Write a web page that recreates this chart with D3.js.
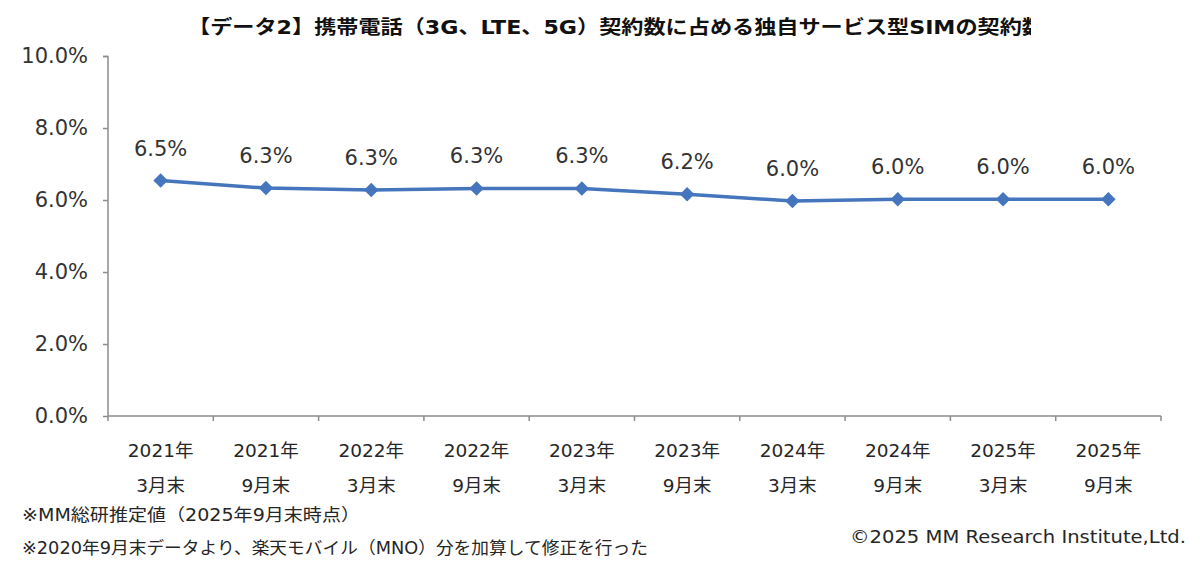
<!DOCTYPE html>
<html>
<head>
<meta charset="utf-8">
<script src="https://cdn.jsdelivr.net/npm/d3@7"></script>
<style>
  body { margin: 0; background: #fff; }
  text { font-family: "DejaVu Sans", "Noto Sans CJK JP", sans-serif; fill: #262626; }
</style>
</head>
<body>
<script>
var w = 1200;
var h = 567;

// data
var years = ["2021年", "2021年", "2022年", "2022年", "2023年", "2023年", "2024年", "2024年", "2025年", "2025年"];
var months = ["3月末", "9月末", "3月末", "9月末", "3月末", "9月末", "3月末", "9月末", "3月末", "9月末"];
var shareValues = [6.54, 6.33, 6.28, 6.32, 6.32, 6.16, 5.97, 6.02, 6.02, 6.02];
var yTicks = [0, 2, 4, 6, 8, 10];

var titleText = "【データ2】携帯電話（3G、LTE、5G）契約数に占める独自サービス型SIMの契約数";
var notes = ["※MM総研推定値（2025年9月末時点）", "※2020年9月末データより、楽天モバイル（MNO）分を加算して修正を行った"];
var noteWidths = [338, 626];
var copyright = "©2025 MM Research Institute,Ltd.";

var categories = years.map(function(d, i){ return i; });

var svg = d3.select("body").append("svg")
            .attr("width", w)
            .attr("height", h);

var x = d3.scaleBand()
          .domain(categories)
          .range([108, 1161]);

var y = d3.scaleLinear()
          .domain([0, 10])
          .range([416, 56]);

//title, clipped like the original
svg.append("clipPath")
   .attr("id", "titleclip")
   .append("rect")
   .attr("x", 0).attr("y", 0)
   .attr("width", 1031).attr("height", 50);

svg.append("text")
   .attr("clip-path", "url(#titleclip)")
   .attr("x", 188)
   .attr("y", 34)
   .attr("textLength", 856)
   .attr("lengthAdjust", "spacingAndGlyphs")
   .style("font-size", "19px")
   .style("font-weight", "bold")
   .style("fill", "#111")
   .text(titleText);

//y axis
var yAxis = svg.append("g")
               .attr("transform", "translate(108,0)")
               .call(d3.axisLeft(y).tickValues(yTicks).tickSize(5).tickPadding(15)
                       .tickFormat(function(d){ return d.toFixed(1) + "%"; }));
yAxis.selectAll("path, line").attr("stroke", "#8c8c8c").attr("stroke-width", 1.5);
yAxis.select(".domain").attr("d", "M-5,56.5H0V416.5");
yAxis.selectAll("text")
     .style("font-size", "21px")
     .style("fill", "#333")
     .attr("font-family", null);

//x axis
var xAxis = svg.append("g")
               .attr("transform", "translate(0,416)");
xAxis.append("line")
     .attr("x1", 108).attr("x2", 1161)
     .attr("y1", 0).attr("y2", 0)
     .attr("stroke", "#8c8c8c").attr("stroke-width", 1.5);
var bounds = categories.map(function(d){ return x(d); }).concat([x.range()[1]]);
xAxis.selectAll("line.tick")
     .data(bounds)
     .enter()
     .append("line")
     .attr("class", "tick")
     .attr("x1", function(d){ return d; })
     .attr("x2", function(d){ return d; })
     .attr("y1", 0).attr("y2", 5)
     .attr("stroke", "#8c8c8c").attr("stroke-width", 1.5);

var xLabels = xAxis.selectAll("text.cat")
                   .data(categories)
                   .enter()
                   .append("text")
                   .attr("class", "cat")
                   .attr("text-anchor", "middle")
                   .style("font-size", "18.5px");
xLabels.append("tspan")
       .attr("x", function(d){ return x(d) + x.bandwidth() / 2; })
       .attr("y", 41)
       .text(function(d){ return years[d]; });
xLabels.append("tspan")
       .attr("x", function(d){ return x(d) + x.bandwidth() / 2; })
       .attr("y", 76)
       .text(function(d){ return months[d]; });

//line and markers
var cx = function(i){ return x(i) + x.bandwidth() / 2; };
var line = d3.line()
             .x(function(d, i){ return cx(i); })
             .y(function(d){ return y(d); });

svg.append("path")
   .datum(shareValues)
   .attr("d", line)
   .attr("fill", "none")
   .attr("stroke", "#4575bd")
   .attr("stroke-width", 3.5);

svg.selectAll("path.marker")
   .data(shareValues)
   .enter()
   .append("path")
   .attr("class", "marker")
   .attr("d", d3.symbol().type(d3.symbolSquare).size(105))
   .attr("transform", function(d, i){ return "translate(" + cx(i) + "," + y(d) + ") rotate(45)"; })
   .attr("fill", "#4575bd");

svg.selectAll("text.val")
   .data(shareValues)
   .enter()
   .append("text")
   .attr("class", "val")
   .attr("x", function(d, i){ return cx(i); })
   .attr("y", function(d){ return y(d) - 25; })
   .attr("text-anchor", "middle")
   .style("font-size", "21px")
   .style("fill", "#333")
   .text(function(d){ return d.toFixed(1) + "%"; });

//notes
svg.selectAll("text.note")
   .data(notes)
   .enter()
   .append("text")
   .attr("class", "note")
   .attr("x", 22)
   .attr("y", function(d, i){ return 521 + i * 33; })
   .attr("textLength", function(d, i){ return noteWidths[i]; })
   .attr("lengthAdjust", "spacingAndGlyphs")
   .style("font-size", "17px")
   .text(function(d){ return d; });

svg.append("text")
   .attr("x", 850)
   .attr("y", 543)
   .attr("textLength", 336)
   .attr("lengthAdjust", "spacingAndGlyphs")
   .style("font-size", "18px")
   .text(copyright);
</script>
</body>
</html>
